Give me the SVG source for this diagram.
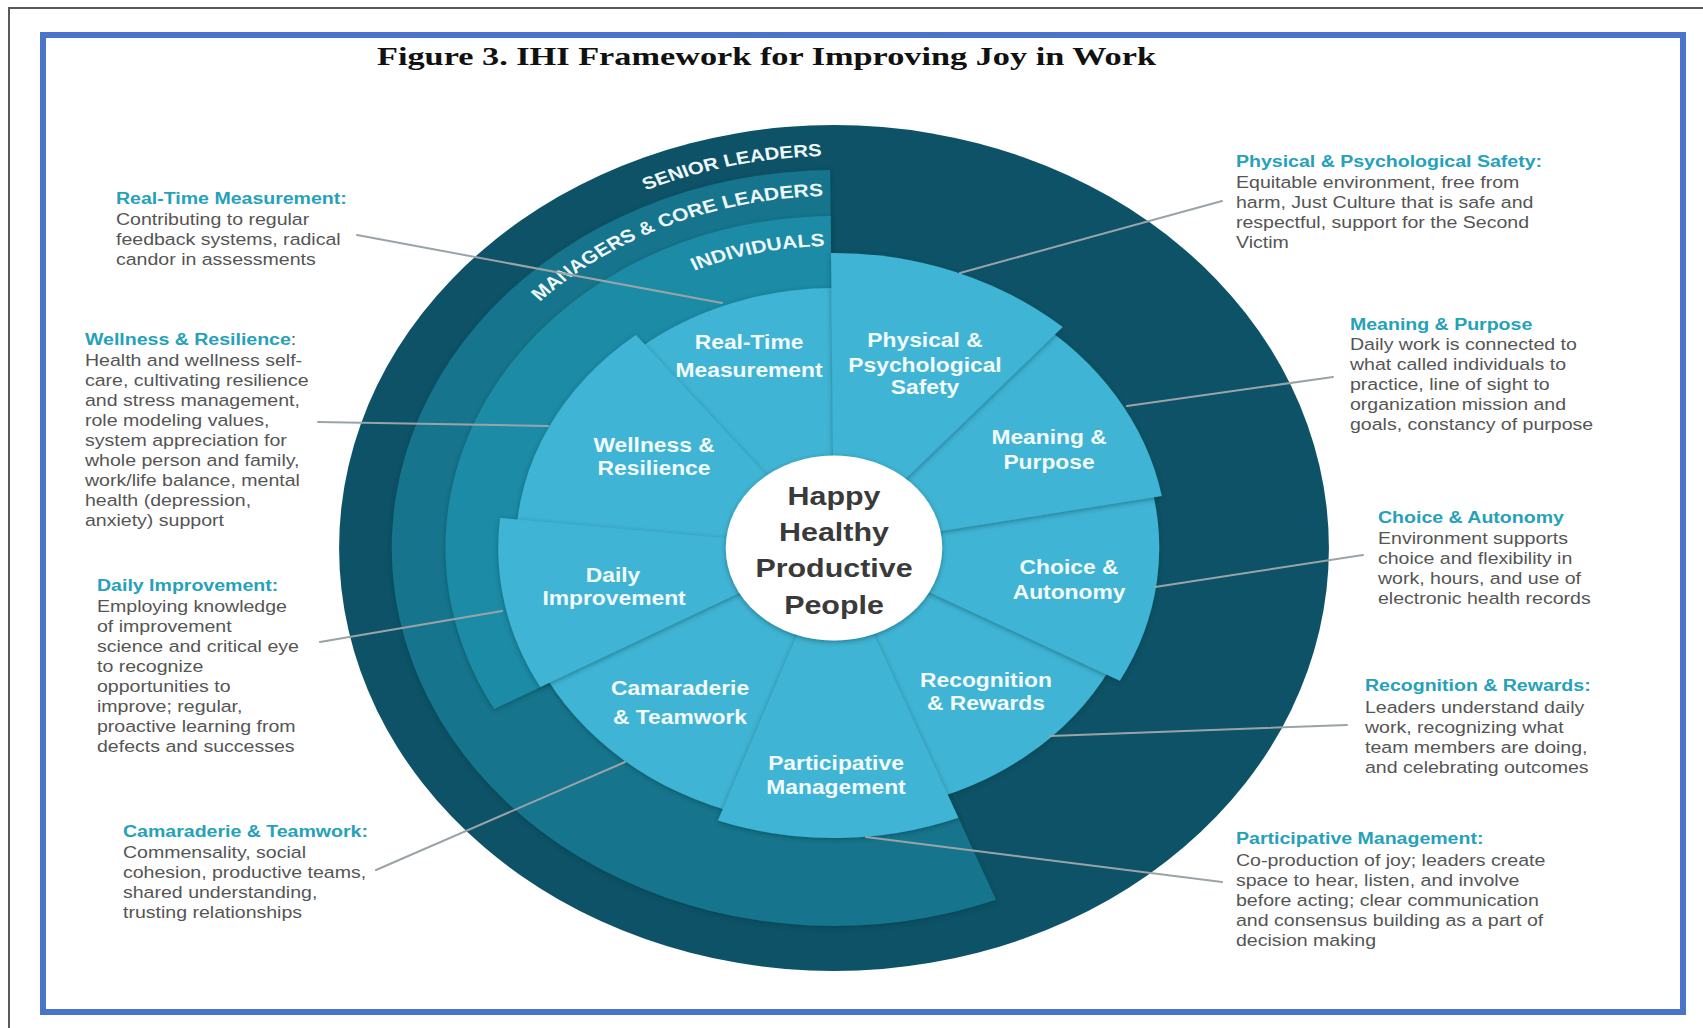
<svg xmlns="http://www.w3.org/2000/svg" width="1703" height="1028" viewBox="0 0 1703 1028">
  <style>
    .frame{fill:none;stroke:#5a5a5a;stroke-width:2}
    .border{fill:none;stroke:#4a74c9;stroke-width:6}
    .title{font-family:"Liberation Serif","Times New Roman",serif;font-weight:bold;font-size:26px;fill:#111}
    .senior{fill:#0d5266}
    .managers{fill:#13758c;filter:url(#lift)}
    .indiv{fill:#1b8ba6;filter:url(#lift)}
    .seg{fill:#3fb4d4;filter:url(#lift)}
    .hubdisc{fill:#ffffff;filter:url(#lift)}
    .ring{font-family:"Liberation Sans",Arial,sans-serif;font-weight:bold;font-size:18px;fill:#eef7fa;text-anchor:end}
    .lbl{font-family:"Liberation Sans",Arial,sans-serif;font-weight:bold;font-size:19.5px;fill:#f2fafc;text-anchor:middle}
    .hub{font-family:"Liberation Sans",Arial,sans-serif;font-weight:bold;font-size:26px;fill:#3a3a3a;text-anchor:middle}
    .hd{font-family:"Liberation Sans",Arial,sans-serif;font-weight:bold;font-size:17px;fill:#25a1ba}
    .bd{font-family:"Liberation Sans",Arial,sans-serif;font-size:17px;fill:#555555}
    .gray{fill:#555555}
    .lead{stroke:#9aa4a8;stroke-width:2;fill:none;stroke-linecap:round}
  </style>
  <defs>
    <filter id="lift" x="-20%" y="-20%" width="140%" height="140%">
      <feDropShadow dx="0" dy="1.5" stdDeviation="2.5" flood-color="#06303c" flood-opacity="0.45"/>
    </filter>
    <!-- baseline arcs for the ring captions (wheel-local coordinates) -->
    <path id="arcSenior" d="M -368.4 -134.1 A 392 392 0 0 1 -10.3 -391.9"/>
    <path id="arcManagers" d="M -330.8 -120.4 A 352 352 0 0 1 -9.2 -351.9"/>
    <path id="arcIndividuals" d="M -283.8 -103.3 A 302 302 0 0 1 -7.9 -301.9"/>
  </defs>

  <rect x="0" y="0" width="1703" height="1028" fill="#ffffff"/>
  <rect class="frame" x="9" y="8" width="1720" height="1040"/>
  <rect class="border" x="43" y="35" width="1640" height="977"/>
  <text class="title" x="377" y="65" textLength="779" lengthAdjust="spacingAndGlyphs">Figure 3. IHI Framework for Improving Joy in Work</text>

  <!-- the framework wheel, drawn in a circular frame stretched horizontally -->
  <g id="wheel" transform="translate(834,548) scale(1.17,1)">
    <g id="senior-leaders">
      <circle class="senior" cx="0" cy="0" r="423"/>
      <text class="ring"><textPath href="#arcSenior" startOffset="100%" font-size="17.5">SENIOR LEADERS</textPath></text>
    </g>
    <g id="managers-core-leaders">
      <path class="managers" d="M 0 0 L 138.5 351.7 A 378 378 0 1 1 -3.3 -378 Z"/>
      <text class="ring"><textPath href="#arcManagers" startOffset="100%">MANAGERS &amp; CORE LEADERS</textPath></text>
    </g>
    <g id="individuals">
      <path class="indiv" d="M 0 0 L -290.4 161 A 332 332 0 0 1 -2.9 -332 Z"/>
      <text class="ring"><textPath href="#arcIndividuals" startOffset="100%">INDIVIDUALS</textPath></text>
    </g>

    <g id="seg-recognition-rewards">
      <path class="seg" d="M 0 0 L 242.1 107.8 A 265 265 0 0 1 77.5 253.4 Z"/>
      <text class="lbl" x="129.9" y="139">Recognition</text>
      <text class="lbl" x="129.9" y="162.3">&amp; Rewards</text>
    </g>
    <g id="seg-choice-autonomy">
      <path class="seg" d="M 0 0 L 268.5 -71.9 A 278 278 0 0 1 244.3 132.7 Z"/>
      <text class="lbl" x="200.9" y="25.7">Choice &amp;</text>
      <text class="lbl" x="200.9" y="50.7">Autonomy</text>
    </g>
    <g id="seg-meaning-purpose">
      <path class="seg" d="M 0 0 L 167.5 -230.6 A 285 285 0 0 1 280.2 -51.9 Z"/>
      <text class="lbl" x="183.8" y="-103.7">Meaning &amp;</text>
      <text class="lbl" x="183.8" y="-78.7">Purpose</text>
    </g>
    <g id="seg-real-time-measurement">
      <path class="seg" d="M 0 0 L -177.3 -190.2 A 260 260 0 0 1 18.1 -259.4 Z"/>
      <text class="lbl" x="-72.6" y="-199.3">Real-Time</text>
      <text class="lbl" x="-72.6" y="-171">Measurement</text>
    </g>
    <g id="seg-wellness-resilience">
      <path class="seg" d="M 0 0 L -272 -4.7 A 272 272 0 0 1 -169.3 -212.9 Z"/>
      <text class="lbl" x="-153.8" y="-96">Wellness &amp;</text>
      <text class="lbl" x="-153.8" y="-72.7">Resilience</text>
    </g>
    <g id="seg-camaraderie-teamwork">
      <path class="seg" d="M 0 0 L -76.6 267.2 A 278 278 0 0 1 -251.9 117.5 Z"/>
      <text class="lbl" x="-131.6" y="147.3">Camaraderie</text>
      <text class="lbl" x="-131.6" y="175.7">&amp; Teamwork</text>
    </g>
    <g id="seg-daily-improvement">
      <path class="seg" d="M 0 0 L -251 139.1 A 287 287 0 0 1 -285.4 -30 Z"/>
      <text class="lbl" x="-188.9" y="34">Daily</text>
      <text class="lbl" x="-188" y="57.3">Improvement</text>
    </g>
    <g id="seg-participative-management">
      <path class="seg" d="M 0 0 L 106.3 269.8 A 290 290 0 0 1 -99.2 272.5 Z"/>
      <text class="lbl" x="1.7" y="222.3">Participative</text>
      <text class="lbl" x="1.7" y="246.3">Management</text>
    </g>
    <g id="seg-physical-psychological-safety">
      <path class="seg" d="M 0 0 L -2.6 -295 A 295 295 0 0 1 195.5 -221 Z"/>
      <text class="lbl" x="77.8" y="-201">Physical &amp;</text>
      <text class="lbl" x="77.8" y="-176">Psychological</text>
      <text class="lbl" x="77.8" y="-153.7">Safety</text>
    </g>

    <g id="hub">
      <circle class="hubdisc" cx="0" cy="0" r="92.5"/>
      <text class="hub" x="0" y="-43">Happy</text>
      <text class="hub" x="0" y="-7">Healthy</text>
      <text class="hub" x="0" y="29">Productive</text>
      <text class="hub" x="0" y="66">People</text>
    </g>
  </g>

  <!-- leader lines from the notes to their wheel segments -->
  <g id="connectors">
    <line class="lead" x1="357" y1="235" x2="722" y2="303"/>
    <line class="lead" x1="318" y1="422" x2="548" y2="426"/>
    <line class="lead" x1="320" y1="642" x2="502" y2="611"/>
    <line class="lead" x1="376" y1="870" x2="625" y2="762"/>
    <line class="lead" x1="1222" y1="201" x2="960" y2="273"/>
    <line class="lead" x1="1333" y1="377" x2="1127" y2="406"/>
    <line class="lead" x1="1363" y1="555" x2="1155" y2="587"/>
    <line class="lead" x1="1347" y1="725" x2="1050" y2="736"/>
    <line class="lead" x1="1222" y1="882" x2="866" y2="837"/>
  </g>

  <!-- explanatory notes -->
  <g id="note-real-time-measurement" transform="translate(116,0) scale(1.15,1)">
    <text class="hd" x="0" y="204">Real-Time Measurement:</text>
    <text class="bd"><tspan x="0" y="225">Contributing to regular</tspan><tspan x="0" dy="20">feedback systems, radical</tspan><tspan x="0" dy="20">candor in assessments</tspan></text>
  </g>
  <g id="note-wellness-resilience" transform="translate(85,0) scale(1.15,1)">
    <text class="hd" x="0" y="345">Wellness &amp; Resilience<tspan class="gray" font-weight="normal">:</tspan></text>
    <text class="bd"><tspan x="0" y="366">Health and wellness self-</tspan><tspan x="0" dy="20">care, cultivating resilience</tspan><tspan x="0" dy="20">and stress management,</tspan><tspan x="0" dy="20">role modeling values,</tspan><tspan x="0" dy="20">system appreciation for</tspan><tspan x="0" dy="20">whole person and family,</tspan><tspan x="0" dy="20">work/life balance, mental</tspan><tspan x="0" dy="20">health (depression,</tspan><tspan x="0" dy="20">anxiety) support</tspan></text>
  </g>
  <g id="note-daily-improvement" transform="translate(97,0) scale(1.15,1)">
    <text class="hd" x="0" y="591">Daily Improvement:</text>
    <text class="bd"><tspan x="0" y="612">Employing knowledge</tspan><tspan x="0" dy="20">of improvement</tspan><tspan x="0" dy="20">science and critical eye</tspan><tspan x="0" dy="20">to recognize</tspan><tspan x="0" dy="20">opportunities to</tspan><tspan x="0" dy="20">improve; regular,</tspan><tspan x="0" dy="20">proactive learning from</tspan><tspan x="0" dy="20">defects and successes</tspan></text>
  </g>
  <g id="note-camaraderie-teamwork" transform="translate(123,0) scale(1.15,1)">
    <text class="hd" x="0" y="837">Camaraderie &amp; Teamwork:</text>
    <text class="bd"><tspan x="0" y="858">Commensality, social</tspan><tspan x="0" dy="20">cohesion, productive teams,</tspan><tspan x="0" dy="20">shared understanding,</tspan><tspan x="0" dy="20">trusting relationships</tspan></text>
  </g>
  <g id="note-physical-psychological-safety" transform="translate(1236,0) scale(1.15,1)">
    <text class="hd" x="0" y="167">Physical &amp; Psychological Safety:</text>
    <text class="bd"><tspan x="0" y="188">Equitable environment, free from</tspan><tspan x="0" dy="20">harm, Just Culture that is safe and</tspan><tspan x="0" dy="20">respectful, support for the Second</tspan><tspan x="0" dy="20">Victim</tspan></text>
  </g>
  <g id="note-meaning-purpose" transform="translate(1350,0) scale(1.15,1)">
    <text class="hd" x="0" y="330">Meaning &amp; Purpose</text>
    <text class="bd"><tspan x="0" y="350">Daily work is connected to</tspan><tspan x="0" dy="20">what called individuals to</tspan><tspan x="0" dy="20">practice, line of sight to</tspan><tspan x="0" dy="20">organization mission and</tspan><tspan x="0" dy="20">goals, constancy of purpose</tspan></text>
  </g>
  <g id="note-choice-autonomy" transform="translate(1378,0) scale(1.15,1)">
    <text class="hd" x="0" y="523">Choice &amp; Autonomy</text>
    <text class="bd"><tspan x="0" y="544">Environment supports</tspan><tspan x="0" dy="20">choice and flexibility in</tspan><tspan x="0" dy="20">work, hours, and use of</tspan><tspan x="0" dy="20">electronic health records</tspan></text>
  </g>
  <g id="note-recognition-rewards" transform="translate(1365,0) scale(1.15,1)">
    <text class="hd" x="0" y="691">Recognition &amp; Rewards:</text>
    <text class="bd"><tspan x="0" y="713">Leaders understand daily</tspan><tspan x="0" dy="20">work, recognizing what</tspan><tspan x="0" dy="20">team members are doing,</tspan><tspan x="0" dy="20">and celebrating outcomes</tspan></text>
  </g>
  <g id="note-participative-management" transform="translate(1236,0) scale(1.15,1)">
    <text class="hd" x="0" y="844">Participative Management:</text>
    <text class="bd"><tspan x="0" y="866">Co-production of joy; leaders create</tspan><tspan x="0" dy="20">space to hear, listen, and involve</tspan><tspan x="0" dy="20">before acting; clear communication</tspan><tspan x="0" dy="20">and consensus building as a part of</tspan><tspan x="0" dy="20">decision making</tspan></text>
  </g>
</svg>
